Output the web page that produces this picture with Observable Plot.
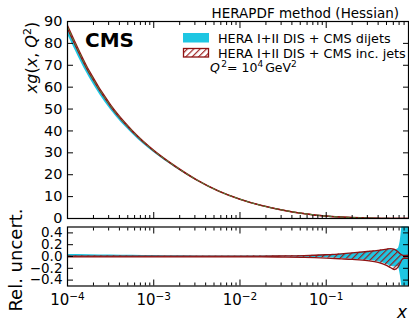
<!DOCTYPE html>
<html><head><meta charset="utf-8">
<script src="https://cdn.jsdelivr.net/npm/d3@7"></script>
<script src="https://cdn.jsdelivr.net/npm/@observablehq/plot@0.6"></script>
<style>
body{margin:0;background:#fff;}
#wrap{position:relative;width:409px;height:320px;overflow:hidden;font-family:"DejaVu Sans",sans-serif;color:#000;background:#fff;}
#wrap > svg{position:absolute;left:0;}
</style></head><body>
<svg width="0" height="0" style="position:absolute">
<defs>
<pattern id="hatch" patternUnits="userSpaceOnUse" width="4.5" height="4.5" patternTransform="rotate(45)">
<line x1="0.6" y1="0" x2="0.6" y2="4.5" stroke="#9a1414" stroke-width="1.1"/>
</pattern>
</defs></svg>
<div id="wrap"></div>
<script>
// ---------- data ----------
const xs      = [1e-4, 1.78e-4, 3.16e-4, 5.62e-4, 1e-3, 1.78e-3, 3.16e-3, 5.62e-3, 1e-2, 1.78e-2, 3.16e-2, 5.62e-2, 0.1, 0.15, 0.2, 0.3, 0.4, 0.5, 0.56, 0.62, 0.68, 0.72, 0.76, 0.8, 0.9];
// x g(x,Q^2), HERA I+II DIS + CMS inc. jets
const xgInc   = [87.5, 67, 51.5, 40, 31, 23.8, 17.6, 12.6, 8.8, 5.9, 3.8, 2.2, 1.1, 0.68, 0.45, 0.21, 0.11, 0.06, 0.04, 0.025, 0.015, 0.01, 0.007, 0.004, 0.001];
// x g(x,Q^2), HERA I+II DIS + CMS dijets
const xgDij   = [84.4, 64.7, 49.8, 38.8, 30.2, 23.3, 17.3, 12.4, 8.7, 5.85, 3.77, 2.19, 1.09, 0.68, 0.45, 0.21, 0.11, 0.06, 0.04, 0.025, 0.015, 0.01, 0.007, 0.004, 0.001];
// relative uncertainties
const incUp   = [0.008, 0.008, 0.007, 0.006, 0.006, 0.006, 0.006, 0.006, 0.006, 0.007, 0.009, 0.015, 0.03, 0.045, 0.06, 0.085, 0.105, 0.125, 0.135, 0.12, 0.08, 0.045, 0.025, 0.02, 0.02];
const incDn   = [-0.008, -0.008, -0.007, -0.006, -0.006, -0.006, -0.006, -0.006, -0.006, -0.007, -0.009, -0.014, -0.027, -0.04, -0.05, -0.07, -0.1, -0.15, -0.19, -0.22, -0.18, -0.11, -0.05, -0.03, -0.03];
const dijUp   = [0.035, 0.031, 0.026, 0.021, 0.016, 0.012, 0.01, 0.009, 0.008, 0.008, 0.009, 0.014, 0.025, 0.04, 0.05, 0.075, 0.095, 0.11, 0.115, 0.11, 0.13, 0.25, 0.55, 0.8, 0.9];
const dijDn   = [-0.002, -0.002, -0.002, -0.002, -0.002, -0.003, -0.005, -0.006, -0.007, -0.008, -0.009, -0.013, -0.022, -0.035, -0.045, -0.065, -0.09, -0.13, -0.165, -0.18, -0.17, -0.3, -0.55, -0.8, -0.9];
const xMajor  = [1e-4, 1e-3, 1e-2, 1e-1];
const xTickLabels = ["10^-4", "10^-3", "10^-2", "10^-1"];
const yTopTicks = [0, 10, 20, 30, 40, 50, 60, 70, 80, 90];
const yBotTicks = [0.4, 0.2, 0.0, -0.2, -0.4];
const yBotLabels = ["0.4", "0.2", "0.0", "\u22120.2", "\u22120.4"];

const CYAN = "#1ec6e2", RED = "#8e1212", GREEN = "#4d8a3c";
const rows = xs.map((x, i) => ({x, v: xgInc[i], vd: xgDij[i], ru: incUp[i], rd: incDn[i], cu: dijUp[i], cd: dijDn[i]}));
const xMinor = [];
for (const m of xMajor) for (let k = 2; k <= 9; k++) if (k * m <= 0.9) xMinor.push(k * m);
const X = {type: "log", domain: [1e-4, 0.9]};
const FS = 14.5;

function tickAxes(yTicks) {
  return [
    Plot.axisY({ticks: yTicks, anchor: "left", tickSize: -6, tickFormat: () => "", label: null}),
    Plot.axisY({ticks: yTicks, anchor: "right", tickSize: -6, tickFormat: () => "", label: null}),
    Plot.axisX({ticks: xMajor, anchor: "bottom", tickSize: -6, tickFormat: () => "", label: null}),
    Plot.axisX({ticks: xMinor, anchor: "bottom", tickSize: -3, tickFormat: () => "", label: null}),
    Plot.axisX({ticks: xMajor, anchor: "top", tickSize: -6, tickFormat: () => "", label: null}),
    Plot.axisX({ticks: xMinor, anchor: "top", tickSize: -3, tickFormat: () => "", label: null})
  ];
}

const p1 = Plot.plot({
  width: 409, height: 222, marginLeft: 67, marginRight: 1, marginTop: 21, marginBottom: 4,
  x: X, y: {domain: [0, 90]},
  style: {fontFamily: "DejaVu Sans", fontSize: FS + "px", color: "#000", background: "transparent", overflow: "visible"},
  marks: [
    Plot.areaY(rows, {x: "x", y1: d => d.vd * (1 + d.cd), y2: d => d.vd * (1 + d.cu), fill: CYAN, curve: "monotone-x", clip: true}),
    Plot.areaY(rows, {x: "x", y1: d => d.v * (1 + d.rd), y2: d => d.v * (1 + d.ru), fill: "url(#hatch)", curve: "monotone-x", clip: true}),
    Plot.line(rows, {x: "x", y: d => d.v * (1 + d.ru), stroke: RED, strokeWidth: 1.3, curve: "monotone-x", clip: true}),
    Plot.line(rows, {x: "x", y: d => d.v * (1 + d.rd), stroke: RED, strokeWidth: 1.3, curve: "monotone-x", clip: true}),
    Plot.line(rows, {x: "x", y: "v", stroke: GREEN, strokeWidth: 1, strokeDasharray: "3,3", curve: "monotone-x", clip: true}),
    Plot.frame({stroke: "#000", strokeWidth: 1.2}),
    Plot.axisY({ticks: yTopTicks, anchor: "left", tickSize: 0, tickPadding: 5, fontSize: FS, tickFormat: d => String(d), label: null}),
    ...tickAxes(yTopTicks)
  ]
});

const p2 = Plot.plot({
  width: 409, height: 98, marginLeft: 67, marginRight: 1, marginTop: 4.5, marginBottom: 34.5,
  x: X, y: {domain: [-0.5, 0.5]},
  style: {fontFamily: "DejaVu Sans", fontSize: FS + "px", color: "#000", background: "transparent", overflow: "visible"},
  marks: [
    Plot.areaY(rows, {x: "x", y1: "cd", y2: "cu", fill: CYAN, curve: "monotone-x", clip: true}),
    Plot.areaY(rows, {x: "x", y1: "rd", y2: "ru", fill: "url(#hatch)", curve: "monotone-x", clip: true}),
    Plot.line(rows, {x: "x", y: "ru", stroke: RED, strokeWidth: 1.3, curve: "monotone-x", clip: true}),
    Plot.line(rows, {x: "x", y: "rd", stroke: RED, strokeWidth: 1.3, curve: "monotone-x", clip: true}),
    Plot.frame({stroke: "#000", strokeWidth: 1.2}),
    Plot.axisY({ticks: yBotTicks, anchor: "left", tickSize: 0, tickPadding: 5, fontSize: 13.5, tickFormat: d => yBotLabels[yBotTicks.indexOf(d)], label: null}),
    Plot.axisX({ticks: xMajor, anchor: "bottom", tickSize: 0, tickPadding: 8, fontSize: 15, tickFormat: d => xTickLabels[xMajor.indexOf(d)], label: null}),
    ...tickAxes(yBotTicks)
  ]
});

const wrap = document.getElementById("wrap");
p1.style.top = "0px";
p2.style.top = "222px";
wrap.appendChild(p1);
wrap.appendChild(p2);

// superscript exponents on x tick labels
d3.select(p2).selectAll('g[aria-label="x-axis tick label"] text').each(function () {
  const t = this.textContent || "";
  if (!t.includes("^")) return;
  const [base, exp] = t.split("^");
  const sel = d3.select(this);
  sel.text(null);
  sel.append("tspan").text(base);
  sel.append("tspan").attr("font-size", 10.5).attr("dy", "-0.45em").text(exp.replace("-", "\u2212"));
});

// overlay texts
const ov = d3.select(wrap).append("svg").attr("width", 409).attr("height", 320)
  .style("top", "0px").style("pointer-events", "none")
  .attr("font-family", "DejaVu Sans");

ov.append("text").attr("x", 399).attr("y", 18).attr("text-anchor", "end")
  .attr("font-size", 13.5).text("HERAPDF method (Hessian)");

ov.append("text").attr("x", 85).attr("y", 47).attr("font-size", 20).attr("font-weight", "bold").text("CMS");

// legend
ov.append("rect").attr("x", 183).attr("y", 33).attr("width", 26).attr("height", 9.5).attr("fill", CYAN);
ov.append("rect").attr("x", 183.5).attr("y", 48.5).attr("width", 25).attr("height", 8.5)
  .attr("fill", "url(#hatch)").attr("stroke", RED).attr("stroke-width", 1.3);
ov.append("text").attr("x", 218).attr("y", 43).attr("font-size", 12.8).text("HERA I+II DIS + CMS dijets");
ov.append("text").attr("x", 218).attr("y", 57.5).attr("font-size", 12.8).text("HERA I+II DIS + CMS inc. jets");
const q = ov.append("text").attr("x", 210).attr("y", 72).attr("font-size", 12.5);
q.append("tspan").attr("font-style", "italic").text("Q");
q.append("tspan").attr("font-size", 9).attr("dy", -5).attr("dx", 1.5).text("2");
q.append("tspan").attr("dy", 5).text("= 10");
q.append("tspan").attr("font-size", 9).attr("dy", -5).text("4");
q.append("tspan").attr("dy", 5).attr("dx", 2).text("GeV");
q.append("tspan").attr("font-size", 9).attr("dy", -5).text("2");

// y labels
const yl = ov.append("text").attr("transform", "translate(37,57.5) rotate(-90)").attr("text-anchor", "middle").attr("font-size", 16);
yl.append("tspan").attr("font-style", "italic").text("xg");
yl.append("tspan").text("(");
yl.append("tspan").attr("font-style", "italic").text("x");
yl.append("tspan").text(", ");
yl.append("tspan").attr("font-style", "italic").text("Q");
yl.append("tspan").attr("font-size", 11).attr("dy", -6).text("2");
yl.append("tspan").attr("dy", 6).text(")");

ov.append("text").attr("transform", "translate(21.5,260) rotate(-90)").attr("text-anchor", "middle")
  .attr("font-size", 18).text("Rel. uncert.");

ov.append("text").attr("x", 402).attr("y", 318).attr("text-anchor", "middle")
  .attr("font-size", 17).attr("font-style", "italic").text("x");
</script>
</body></html>
